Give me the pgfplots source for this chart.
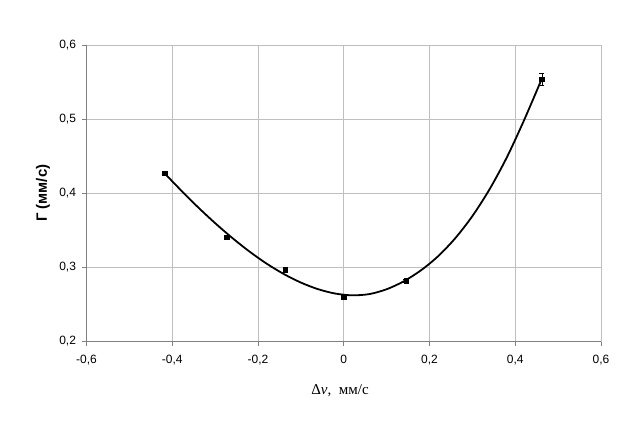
\documentclass[border=0pt]{standalone}
\usepackage{pgfplots}
\pgfplotsset{compat=1.18}
\usepackage{pgfplotstable}
\usepackage{fontspec}
\setmainfont{Liberation Sans}
\newfontfamily\seriffont{Liberation Serif}

% measured line widths with their errors
\pgfplotstableread{
x       y       err
-0.418  0.427   0.003
-0.273  0.341   0.002
-0.137  0.297   0.002
 0.000  0.260   0.002
 0.145  0.282   0.002
 0.462  0.554   0.008
}\measured

% fitted trend
\pgfplotstableread{
x       y
-0.418  0.4270
-0.38   0.4042
-0.34   0.3812
-0.30   0.3597
-0.26   0.3397
-0.22   0.3214
-0.18   0.3051
-0.14   0.2911
-0.10   0.2795
-0.06   0.2706
-0.02   0.2647
 0.02   0.2623
 0.06   0.2640
 0.10   0.2705
 0.14   0.2812
 0.18   0.2960
 0.22   0.3150
 0.26   0.3393
 0.30   0.3692
 0.34   0.4053
 0.38   0.4480
 0.42   0.4978
 0.462  0.5545
}\trend

\begin{document}
\begin{tikzpicture}
\useasboundingbox (-86.5bp,-80.5bp) rectangle (531.5bp,341.5bp);
\begin{axis}[
  scale only axis,
  width=514.5bp, height=296.5bp,
  xmin=-0.6, xmax=0.6, ymin=0.2, ymax=0.6,
  axis lines=left,
  axis line style={-, black!50, line width=0.8pt},
  xtick={-0.6,-0.4,-0.2,0,0.2,0.4,0.6},
  xticklabels={{-0,6},{-0,4},{-0,2},0,{0,2},{0,4},{0,6}},
  ytick={0.2,0.3,0.4,0.5,0.6},
  yticklabels={{0,2},{0,3},{0,4},{0,5},{0,6}},
  grid=major,
  grid style={black!25, line width=0.8pt},
  tick align=outside,
  major tick length=4bp,
  tick style={black!50, line width=0.8pt},
  ticklabel style={font=\fontsize{12bp}{14bp}\selectfont},
  xticklabel style={yshift=-6bp},
  yticklabel style={xshift=-3bp},
  xlabel={{\seriffont Δ\textit{v},\ \ мм/с}},
  ylabel={\bfseries Г (мм/с)},
  xlabel style={at={(axis description cs:0.4927,-0.167)}, anchor=center,
    font=\fontsize{15bp}{17bp}\selectfont},
  ylabel style={at={(axis description cs:-0.0845,0.5)}, anchor=center, rotate=0,
    font=\fontsize{15bp}{17bp}\selectfont},
  clip=false,
]
\addplot[black, line width=1.8pt, smooth, no markers] table[x=x, y=y] {\trend};
\addplot[black, only marks, mark=square*, mark size=2.2bp,
  error bars/.cd, y dir=both, y explicit,
  error bar style={black, line width=0.6pt},
  error mark options={rotate=90, black, mark size=2.5bp, line width=0.6pt}]
  table[x=x, y=y, y error=err] {\measured};
\end{axis}
\end{tikzpicture}
\end{document}
